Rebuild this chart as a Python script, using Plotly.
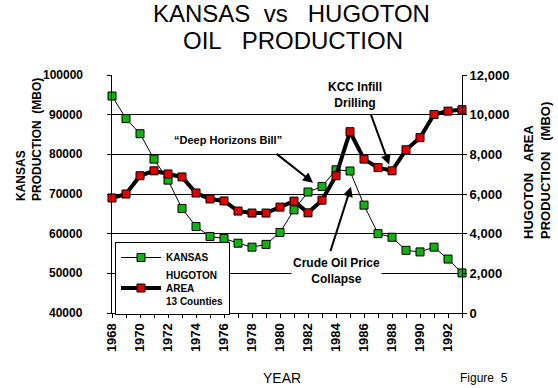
import plotly.graph_objects as go

years = list(range(1968, 1994))
kansas = [94700, 89000, 85200, 78800, 73500, 66350, 61800, 59300, 58800, 57600,
          56600, 57300, 60300, 66000, 70500, 71900, 76100, 75800, 67200, 60000,
          59100, 55800, 55400, 56600, 53600, 50100]
hugoton = [5800, 6000, 6920, 7170, 7010, 6860, 6050, 5750, 5650, 5140,
           5040, 5040, 5340, 5640, 5050, 5690, 6920, 9140, 7760, 7330,
           7170, 8230, 8840, 10010, 10180, 10250]
x_tick_text = [str(y) if y % 2 == 0 else "" for y in years]
left_ticks = [40000, 50000, 60000, 70000, 80000, 90000, 100000]
right_ticks = [0, 2000, 4000, 6000, 8000, 10000, 12000]

FONT = "Arial, Liberation Sans, sans-serif"
W, H = 558, 388
L, R, T, B = 112, 96, 75, 75
PW, PH = W - L - R, H - T - B


def px(x):
    return (x - L) / PW


def py(y):
    return (H - B - y) / PH


def label(text, x, y, size, bold=False, **kw):
    f = dict(size=size, family=FONT, color="black")
    if bold:
        f["weight"] = "bold"
    d = dict(text=text, x=px(x), y=py(y), xref="paper", yref="paper",
             xanchor="center", yanchor="middle", showarrow=False, font=f)
    d.update(kw)
    return d


fig = go.Figure()
fig.add_trace(go.Scatter(
    x=years, y=kansas, name="KANSAS", mode="lines+markers",
    line=dict(color="black", width=1),
    marker=dict(symbol="square", size=8, color="#12B012",
                line=dict(color="black", width=1)),
    cliponaxis=False,
))
fig.add_trace(go.Scatter(
    x=years, y=hugoton, name="HUGOTON<br>AREA<br>13 Counties", mode="lines+markers",
    yaxis="y2",
    line=dict(color="black", width=4),
    marker=dict(symbol="square", size=8, color="#E00000",
                line=dict(color="black", width=1)),
    cliponaxis=False,
))

anns = [
    label("KANSAS\u00a0\u00a0vs\u00a0\u00a0\u00a0HUGOTON", 291, 13, 24),
    label("OIL\u00a0\u00a0\u00a0PRODUCTION", 293, 40, 24),
    label("KANSAS<br>PRODUCTION\u00a0\u00a0(MBO)", 29, 140, 12, True, textangle=-90, align="left"),
    label("HUGOTON\u00a0\u00a0\u00a0AREA<br>PRODUCTION\u00a0\u00a0\u00a0(MBO)", 537, 171, 13, True,
          textangle=-90, align="left"),
    label("YEAR", 282, 378, 14),
    label("Figure\u00a0\u00a05", 484, 378, 12),
    label("\u201cDeep Horizons Bill\u201d", 228, 140, 11, True),
    label("KCC Infill<br>Drilling", 355, 95, 12, True),
    label("Crude Oil Price<br>Collapse", 336, 271, 12, True, bgcolor="white"),
    dict(text="", x=1982.36, y=72850, xref="x", yref="y", ax=-38, ay=-30,
         showarrow=True, arrowhead=2, arrowsize=1, arrowwidth=2, arrowcolor="black"),
    dict(text="", x=1987.8, y=77400, xref="x", yref="y", ax=-19, ay=-52,
         showarrow=True, arrowhead=2, arrowsize=1, arrowwidth=2, arrowcolor="black"),
    dict(text="", x=1985.07, y=71850, xref="x", yref="y", ax=-21, ay=66,
         showarrow=True, arrowhead=2, arrowsize=1, arrowwidth=2, arrowcolor="black"),
]
# Left axis tick labels, placed farther from the axis than plotly's default
for v in left_ticks:
    anns.append(dict(text=str(v), x=px(85), y=v, xref="paper", yref="y",
                     xanchor="right", yanchor="middle", showarrow=False,
                     font=dict(size=12, family=FONT, color="black", weight="bold")))

fig.update_layout(
    width=W, height=H,
    margin=dict(l=L, r=R, t=T, b=B, pad=0),
    paper_bgcolor="white", plot_bgcolor="white",
    font=dict(family=FONT, color="black"),
    showlegend=True,
    legend=dict(x=px(115), y=py(242), xanchor="left", yanchor="top",
                bgcolor="white", bordercolor="black", borderwidth=1,
                font=dict(size=10, family=FONT, color="black", weight="bold"),
                itemwidth=40, tracegroupgap=4),
    xaxis=dict(range=[1968, 1993], tickvals=years, ticktext=x_tick_text,
               tickangle=-90, ticks="outside", ticklen=4, tickcolor="black",
               showline=True, linecolor="black", linewidth=1, showgrid=False, zeroline=False,
               automargin=False,
               tickfont=dict(size=13, family=FONT, color="black", weight="bold")),
    yaxis=dict(range=[40000, 100000], tickvals=left_ticks, showticklabels=False,
               ticks="outside", ticklen=4, tickcolor="black",
               showline=True, linecolor="black", linewidth=1,
               showgrid=True, gridcolor="black", gridwidth=1, zeroline=False,
               automargin=False),
    yaxis2=dict(range=[0, 12000], tickvals=right_ticks, tickformat=",",
                overlaying="y", side="right",
                ticks="outside", ticklen=4, tickcolor="black",
                showline=True, linecolor="black", linewidth=1,
                showgrid=False, zeroline=False, automargin=False,
                tickfont=dict(size=13, family=FONT, color="black", weight="bold")),
    annotations=anns,
)

fig.write_html("out.html", config={"displayModeBar": False},
               post_script="document.body.style.margin='0';")
